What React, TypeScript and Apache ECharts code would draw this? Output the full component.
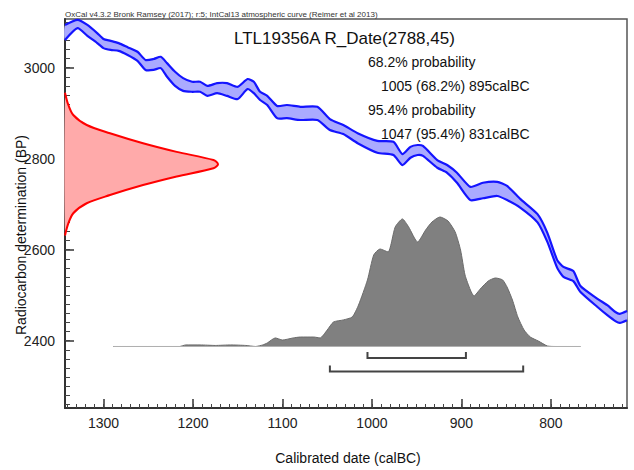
import React, { useEffect, useRef } from 'react';
import * as echarts from 'echarts';

const FONT = '"Liberation Sans", Arial, Helvetica, sans-serif';

// Axis ticks
const X_TICKS = [800, 900, 1000, 1100, 1200, 1300];
const Y_TICKS = [2400, 2600, 2800, 3000];

// Calibration curve (IntCal13 band): calBC, upper BP, lower BP
const CAL_YEARS = [1343, 1329, 1318, 1307, 1300, 1292, 1283, 1273, 1262, 1253, 1244, 1236, 1229, 1220, 1211, 1201, 1192, 1184, 1173, 1162, 1150, 1139, 1132, 1125, 1117, 1106, 1095, 1080, 1061, 1047, 1032, 1016, 994, 976, 966, 957, 949, 943, 927, 916, 905, 890, 876, 860, 849, 834, 815, 804, 793, 786, 775, 767, 748, 737, 728, 723, 715];
const CURVE_UPPER = [3094, 3105, 3094, 3076, 3063, 3059, 3054, 3045, 3035, 3017, 3019, 3024, 3010, 2991, 2977, 2969, 2969, 2960, 2966, 2966, 2958, 2975, 2969, 2947, 2938, 2916, 2918, 2914, 2914, 2887, 2874, 2856, 2839, 2837, 2810, 2826, 2830, 2828, 2797, 2786, 2769, 2738, 2747, 2749, 2740, 2711, 2678, 2637, 2577, 2562, 2553, 2520, 2492, 2478, 2463, 2459, 2465];
const CURVE_LOWER = [3061, 3087, 3070, 3054, 3043, 3039, 3037, 3028, 3015, 2995, 2995, 2999, 2980, 2960, 2949, 2947, 2947, 2938, 2944, 2938, 2931, 2953, 2944, 2929, 2918, 2889, 2889, 2885, 2885, 2863, 2854, 2834, 2813, 2808, 2786, 2802, 2808, 2806, 2780, 2769, 2747, 2709, 2713, 2718, 2709, 2692, 2660, 2617, 2560, 2540, 2531, 2507, 2474, 2456, 2443, 2439, 2445];

// Radiocarbon measurement R_Date(2788,45): BP and relative density
const GAUSS_BP = [2945, 2920, 2896, 2874, 2856, 2834, 2815, 2797, 2788, 2779, 2761, 2742, 2720, 2702, 2680, 2656, 2631];
const GAUSS_DENSITY = [0, 0.02, 0.054, 0.142, 0.294, 0.51, 0.73, 0.97, 1.0, 0.97, 0.73, 0.51, 0.294, 0.142, 0.054, 0.02, 0];

// Calibrated posterior: calBC and relative probability
const POST_YEARS = [1289, 1215, 1208, 1192, 1175, 1158, 1141, 1130, 1122, 1117, 1108, 1100, 1088, 1080, 1065, 1058, 1050, 1043, 1032, 1022, 1015, 1005, 998, 991, 982, 974, 966, 959, 949, 940, 933, 924, 915, 907, 901, 896, 890, 886, 879, 870, 862, 854, 849, 843, 837, 830, 823, 814, 804, 795, 767];
const POST_PROB = [0, 0, 0.012, 0.012, 0.008, 0.012, 0.008, 0, 0.012, 0.027, 0.066, 0.05, 0.066, 0.073, 0.073, 0.066, 0.127, 0.189, 0.205, 0.228, 0.32, 0.514, 0.707, 0.753, 0.73, 0.923, 0.985, 0.923, 0.807, 0.9, 0.961, 1.0, 0.969, 0.884, 0.745, 0.552, 0.436, 0.39, 0.444, 0.506, 0.529, 0.514, 0.459, 0.359, 0.228, 0.127, 0.073, 0.042, 0.004, 0, 0];

// Ranges: [from, to] calBC
const RANGE_68 = [1005, 895];
const RANGE_95 = [1047, 831];

const HEADER = 'OxCal v4.3.2 Bronk Ramsey (2017); r:5; IntCal13 atmospheric curve (Reimer et al 2013)';
const TITLE = 'LTL19356A R_Date(2788,45)';
const INFO = ['68.2% probability', '1005 (68.2%) 895calBC', '95.4% probability', '1047 (95.4%) 831calBC'];

const X_MINOR: number[] = [];
for (let v = 720; v <= 1340; v += 10) X_MINOR.push(v);
const Y_MINOR: number[] = [];
for (let v = 2260; v <= 3100; v += 20) Y_MINOR.push(v);

const plain = (v: number) => String(v);

export default function App() {
  const ref = useRef<HTMLDivElement>(null);
  useEffect(() => {
    const chart = echarts.init(ref.current!, null, { renderer: 'svg' });

    const bandRender = (params: any, api: any) => {
      if (params.dataIndex !== 0) return null;
      const up = CAL_YEARS.map((c, i) => api.coord([c, CURVE_UPPER[i]]));
      const lo = CAL_YEARS.map((c, i) => api.coord([c, CURVE_LOWER[i]]));
      const poly = up.concat(lo.slice().reverse());
      return {
        type: 'group',
        children: [
          { type: 'polygon', shape: { points: poly, smooth: 0.2 }, style: { fill: '#aaaaff', stroke: 'none' } },
          { type: 'polyline', shape: { points: up, smooth: 0.2 }, style: { fill: 'none', stroke: '#1414ff', lineWidth: 2.2 } },
          { type: 'polyline', shape: { points: lo, smooth: 0.2 }, style: { fill: 'none', stroke: '#1414ff', lineWidth: 2.2 } },
        ],
      };
    };

    const gaussRender = (params: any, api: any) => {
      if (params.dataIndex !== 0) return null;
      const pts = GAUSS_BP.map((b, i) => api.coord([GAUSS_DENSITY[i], b]));
      return {
        type: 'group',
        children: [
          { type: 'polygon', shape: { points: pts, smooth: 0.3 }, style: { fill: '#ffaaaa', stroke: 'none' } },
          { type: 'polyline', shape: { points: pts, smooth: 0.3 }, style: { fill: 'none', stroke: '#ff0000', lineWidth: 2 } },
        ],
      };
    };

    const bracketRender = (params: any, api: any) => {
      const a = api.coord([api.value(0), 0]);
      const b = api.coord([api.value(1), 0]);
      const drop = params.dataIndex === 0 ? 11.5 : 25;
      const y = a[1] + drop;
      return {
        type: 'polyline',
        shape: { points: [[a[0], y - 6], [a[0], y], [b[0], y], [b[0], y - 6]] },
        style: { fill: 'none', stroke: '#444', lineWidth: 2 },
      };
    };

    const texts: any[] = [
      { type: 'text', x: 65, y: 14, style: { text: HEADER, fontSize: 8, fontFamily: FONT, fill: '#333', verticalAlign: 'middle' } },
      { type: 'text', x: 234, y: 38, style: { text: TITLE, fontSize: 17, fontFamily: FONT, fill: '#111', verticalAlign: 'middle' } },
      { type: 'text', x: 368, y: 61.5, style: { text: INFO[0], fontSize: 14, fontFamily: FONT, fill: '#111', verticalAlign: 'middle' } },
      { type: 'text', x: 381, y: 85.5, style: { text: INFO[1], fontSize: 14, fontFamily: FONT, fill: '#111', verticalAlign: 'middle' } },
      { type: 'text', x: 368, y: 109.5, style: { text: INFO[2], fontSize: 14, fontFamily: FONT, fill: '#111', verticalAlign: 'middle' } },
      { type: 'text', x: 381, y: 134, style: { text: INFO[3], fontSize: 14, fontFamily: FONT, fill: '#111', verticalAlign: 'middle' } },
      { type: 'text', x: 348, y: 458, style: { text: 'Calibrated date (calBC)', fontSize: 14, fontFamily: FONT, fill: '#111', align: 'center', verticalAlign: 'middle' } },
      { type: 'text', x: 21, y: 235, rotation: Math.PI / 2, style: { text: 'Radiocarbon determination (BP)', fontSize: 14, fontFamily: FONT, fill: '#111', align: 'center', verticalAlign: 'middle' } },
    ];

    const option: any = {
      animation: false,
      backgroundColor: '#ffffff',
      grid: { left: 65, right: 7, top: 19, bottom: 62, show: true, borderColor: '#555', borderWidth: 1.5, backgroundColor: 'transparent', outerBoundsMode: 'none' },
      xAxis: [
        {
          type: 'value', inverse: true, min: 715, max: 1343, position: 'bottom',
          axisLine: { show: true, onZero: false, lineStyle: { color: '#333', width: 2 } },
          axisTick: { show: true, inside: true, length: 9, customValues: X_TICKS, lineStyle: { color: '#333', width: 1.5 } },
          axisLabel: { show: true, customValues: X_TICKS, formatter: plain, fontSize: 14, fontFamily: FONT, color: '#222', margin: 8 },
          splitLine: { show: false },
        },
        {
          type: 'value', inverse: true, min: 715, max: 1343, position: 'bottom',
          axisLine: { show: false, onZero: false },
          axisTick: { show: true, inside: true, length: 4, customValues: X_MINOR, lineStyle: { color: '#444', width: 1 } },
          axisLabel: { show: false },
          splitLine: { show: false },
        },
        { type: 'value', min: 0, max: 3.673, show: false, position: 'bottom', axisLine: { onZero: false }, splitLine: { show: false } },
      ],
      yAxis: [
        {
          type: 'value', min: 2252, max: 3107, position: 'left',
          axisLine: { show: true, onZero: false, lineStyle: { color: '#333', width: 2 } },
          axisTick: { show: true, inside: true, length: 9, customValues: Y_TICKS, lineStyle: { color: '#333', width: 1.5 } },
          axisLabel: { show: true, customValues: Y_TICKS, formatter: plain, fontSize: 14, fontFamily: FONT, color: '#222', margin: 10 },
          splitLine: { show: false },
        },
        {
          type: 'value', min: 2252, max: 3107, position: 'left',
          axisLine: { show: false, onZero: false },
          axisTick: { show: true, inside: true, length: 5, customValues: Y_MINOR, lineStyle: { color: '#444', width: 1 } },
          axisLabel: { show: false },
          splitLine: { show: false },
        },
        { type: 'value', min: -0.475, max: 2.529, show: false, position: 'left', axisLine: { onZero: false }, splitLine: { show: false } },
      ],
      series: [
        {
          type: 'custom', xAxisIndex: 0, yAxisIndex: 0, renderItem: bandRender,
          data: CAL_YEARS.map((c, i) => [c, CURVE_UPPER[i]]), z: 2, silent: true,
        },
        {
          type: 'custom', xAxisIndex: 2, yAxisIndex: 0, renderItem: gaussRender,
          data: GAUSS_BP.map((b, i) => [GAUSS_DENSITY[i], b]), z: 3, silent: true,
        },
        {
          type: 'line', xAxisIndex: 0, yAxisIndex: 2, symbol: 'none', smooth: 0.2,
          data: POST_YEARS.map((c, i) => [c, POST_PROB[i]]),
          lineStyle: { color: '#6a6a6a', width: 1 },
          areaStyle: { color: '#808080', opacity: 1 },
          z: 4, silent: true,
        },
        {
          type: 'line', xAxisIndex: 0, yAxisIndex: 2, symbol: 'none',
          data: [[POST_YEARS[0], 0], [POST_YEARS[POST_YEARS.length - 1], 0]],
          lineStyle: { color: '#b0b0b0', width: 1.2 }, z: 5, silent: true,
        },
        {
          type: 'custom', xAxisIndex: 0, yAxisIndex: 2, renderItem: bracketRender,
          data: [RANGE_68, RANGE_95], z: 6, silent: true,
        },
      ],
      graphic: texts,
    };

    chart.setOption(option);
    return () => chart.dispose();
  }, []);
  return <div ref={ref} style={{ position: 'absolute', left: 0, top: 0, width: 634, height: 470 }} />;
}
